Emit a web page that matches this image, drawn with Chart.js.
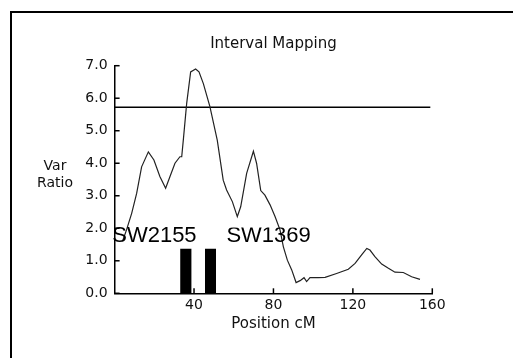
<!DOCTYPE html>
<html>
<head>
<meta charset="utf-8">
<script src="https://cdn.jsdelivr.net/npm/chart.js@4"></script>
<style>
html,body{margin:0;padding:0;background:#fff;overflow:hidden}
#wrap{position:relative;width:513px;height:358px}
#frame{position:absolute;left:10px;top:11px;width:600px;height:500px;border-top:2px solid #000;border-left:2px solid #000}
canvas{position:absolute;left:0;top:0}
</style>
</head>
<body>
<div id="wrap">
<div id="frame"></div>
<canvas id="chart" width="513" height="358"></canvas>
</div>
<script>

// data
const positions = [4, 6, 8.6, 11.1, 13.6, 17, 19.8, 22.8, 25.7, 27.9, 30.4, 32.9, 33.8, 34.6, 36.3, 38.3, 40.8, 42.5, 44.7, 48, 51.7, 54.7, 56.4, 59.3, 61.8, 63.5, 66.5, 69.9, 71.5, 73.6, 75.7, 78.3, 80.8, 83.3, 85, 87, 89.2, 91.4, 93.4, 95.4, 96.7, 98.4, 102.6, 106, 111.8, 117.7, 121.1, 124.4, 127, 128.6, 131.1, 134.5, 137.9, 141.2, 145.4, 149.6, 153.8]
const varRatio = [1.6, 1.95, 2.46, 3.07, 3.89, 4.35, 4.10, 3.59, 3.23, 3.59, 4.00, 4.20, 4.20, 4.71, 5.84, 6.81, 6.90, 6.81, 6.45, 5.74, 4.71, 3.48, 3.18, 2.82, 2.36, 2.66, 3.69, 4.37, 4.0, 3.16, 3.02, 2.72, 2.36, 1.95, 1.43, 1.02, 0.72, 0.33, 0.39, 0.48, 0.36, 0.48, 0.48, 0.49, 0.61, 0.74, 0.92, 1.18, 1.38, 1.33, 1.13, 0.90, 0.77, 0.65, 0.64, 0.51, 0.43]

const threshold = 5.72
const thresholdRange = [0, 159]

const markerNames = ["SW2155", "SW1369"]
const markerStart = [33.0, 45.5]
const markerEnd = [38.8, 51.1]
const markerHeight = [1.37, 1.37]

const xTicks = [40, 80, 120, 160]
const yTicks = [0, 1, 2, 3, 4, 5, 6, 7]

const titleText = "Interval Mapping"
const xTitle = "Position cM"
const yTitle = ["Var", "Ratio"]


// datasets
const curve = positions.map((p, i) => ({x: p, y: varRatio[i]}))

const datasets = [{
  data: curve,
  borderColor: "#222",
  borderWidth: 1.2,
  pointRadius: 0,
  tension: 0,
  fill: false
}, {
  data: thresholdRange.map(x => ({x: x, y: threshold})),
  borderColor: "#000",
  borderWidth: 1.5,
  pointRadius: 0,
  fill: false
}]

markerStart.forEach((s, i) => {
  const e = markerEnd[i]
  const h = markerHeight[i]
  datasets.push({
    data: [{x: s, y: 0}, {x: s, y: h}, {x: e, y: h}, {x: e, y: 0}],
    borderWidth: 0,
    borderColor: "#000",
    backgroundColor: "#000",
    pointRadius: 0,
    fill: "origin"
  })
})


// extra text and inward tick marks
const decor = {
  id: "decor",
  afterDatasetsDraw(chart){
    const ctx = chart.ctx
    const xs = chart.scales.x
    const ys = chart.scales.y
    const a = chart.chartArea

    ctx.save()
    ctx.strokeStyle = "#000"
    ctx.lineWidth = 1.5
    xTicks.forEach(v => {
      const px = xs.getPixelForValue(v)
      ctx.beginPath()
      ctx.moveTo(px, a.bottom)
      ctx.lineTo(px, a.bottom - 5)
      ctx.stroke()
    })
    yTicks.forEach(v => {
      const py = ys.getPixelForValue(v)
      ctx.beginPath()
      ctx.moveTo(a.left, py)
      ctx.lineTo(a.left + 5, py)
      ctx.stroke()
    })

    // marker labels
    ctx.fillStyle = "#000"
    ctx.font = "22px 'Liberation Sans', Arial, sans-serif"
    ctx.textAlign = "left"
    ctx.textBaseline = "alphabetic"
    const labelX = [-1.2, 56.3]
    const base = ys.getPixelForValue(1.59)
    markerNames.forEach((n, i) => {
      ctx.save()
      if(i == 1){
        ctx.beginPath()
        ctx.rect(0, base - 14, 513, 30)
        ctx.clip()
      }
      ctx.fillText(n, xs.getPixelForValue(labelX[i]), base)
      ctx.restore()
    })
    ctx.restore()
  },
  afterDraw(chart){
    const ctx = chart.ctx
    const a = chart.chartArea
    ctx.save()
    ctx.fillStyle = "#111"
    ctx.textAlign = "center"
    ctx.textBaseline = "alphabetic"
    ctx.font = "15px 'DejaVu Sans', sans-serif"
    ctx.fillText(titleText, (a.left + a.right) / 2, 47.5)
    ctx.fillText(xTitle, (a.left + a.right) / 2, 328)
    ctx.font = "14px 'DejaVu Sans', sans-serif"
    ctx.fillText(yTitle[0], 55, 170)
    ctx.fillText(yTitle[1], 55, 187)
    ctx.restore()
  }
}


const ctx = document.getElementById("chart").getContext("2d")

new Chart(ctx, {
  type: "line",
  data: {datasets: datasets},
  options: {
    responsive: false,
    animation: false,
    events: [],
    layout: {
      padding: {left: 0, top: 65.7, right: 80.7, bottom: 0}
    },
    plugins: {
      legend: {display: false},
      tooltip: {enabled: false},
      title: {display: false}
    },
    scales: {
      x: {
        type: "linear",
        min: 0,
        max: 160,
        afterFit: s => { s.height = 64.7 },
        afterBuildTicks: s => { s.ticks = xTicks.map(v => ({value: v})) },
        grid: {display: false, drawTicks: false},
        border: {display: true, color: "#000", width: 1.5},
        ticks: {
          color: "#111",
          padding: 4,
          maxRotation: 0,
          font: {family: "'DejaVu Sans', sans-serif", size: 14},
          callback: v => String(v)
        }
      },
      y: {
        type: "linear",
        min: 0,
        max: 7,
        afterFit: s => { s.width = 114.6 },
        afterBuildTicks: s => { s.ticks = yTicks.map(v => ({value: v})) },
        grid: {display: false, drawTicks: false},
        border: {display: true, color: "#000", width: 1.5},
        ticks: {
          color: "#111",
          padding: 7,
          font: {family: "'DejaVu Sans', sans-serif", size: 14},
          callback: v => Number(v).toFixed(1)
        }
      }
    }
  },
  plugins: [decor]
})

</script>
</body>
</html>
